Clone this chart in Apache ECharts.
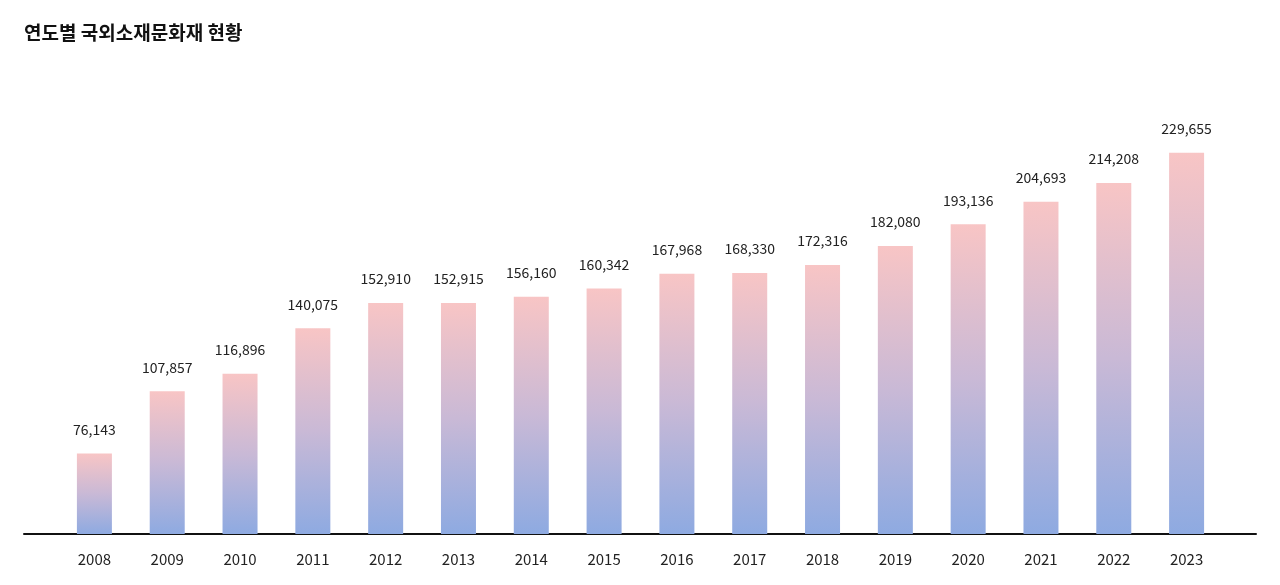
<!DOCTYPE html>
<html>
<head>
<meta charset="utf-8">
<script src="https://cdn.jsdelivr.net/npm/echarts@6/dist/echarts.min.js"></script>
<style>
html,body{margin:0;padding:0;background:#fff;}
#c{width:1280px;height:585px;}
</style>
</head>
<body>
<div id="c"></div>
<script>
var years = ['2008','2009','2010','2011','2012','2013','2014','2015','2016','2017','2018','2019','2020','2021','2022','2023'];
var counts = [76143,107857,116896,140075,152910,152915,156160,160342,167968,168330,172316,182080,193136,204693,214208,229655];
var titleText = '연도별 국외소재문화재 현황';

var chart = echarts.init(document.getElementById('c'));
var font = '"Noto Sans CJK KR","Noto Sans",sans-serif';
chart.setOption({
  animation: false,
  textStyle: {fontFamily: font},
  title: {
    text: titleText, left: 19, top: 18,
    textStyle: {fontFamily: font, fontSize: 19, fontWeight: 'bold', color: '#111'}
  },
  grid: [
    {left: 58, right: 57, top: 113, bottom: 51},
    {left: 24, right: 24, top: 113, bottom: 51}
  ],
  xAxis: [
    {
      type: 'category', data: years, gridIndex: 0,
      axisLine: {show: false}, axisTick: {show: false},
      axisLabel: {color: '#222', fontSize: 15, margin: 18, fontFamily: font}
    },
    {
      type: 'value', gridIndex: 1, min: 0, max: 1,
      axisLine: {show: true, onZero: false, lineStyle: {color: '#111', width: 2}},
      axisTick: {show: false}, axisLabel: {show: false}, splitLine: {show: false}
    }
  ],
  yAxis: [
    {type: 'value', gridIndex: 0, min: 35000, max: 250000, show: false, splitLine: {show: false}},
    {type: 'value', gridIndex: 1, min: 0, max: 1, show: false, splitLine: {show: false}}
  ],
  series: [{
    type: 'bar', xAxisIndex: 0, yAxisIndex: 0,
    data: counts, barWidth: 35,
    itemStyle: {
      color: new echarts.graphic.LinearGradient(0, 0, 0, 1, [
        {offset: 0, color: '#f8c5c5'},
        {offset: 0.5, color: '#c9b9d6'},
        {offset: 1, color: '#8eaae1'}
      ])
    },
    label: {
      show: true, position: 'top', distance: 17,
      color: '#222', fontSize: 14, fontFamily: font,
      formatter: function (p) { return p.value.toLocaleString('en-US'); }
    }
  }]
});
</script>
</body>
</html>
